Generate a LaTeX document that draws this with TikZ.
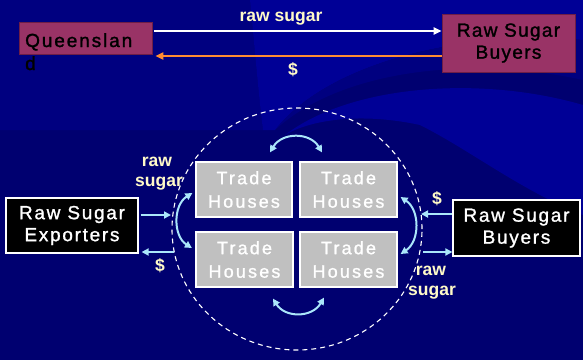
\documentclass[tikz,border=0pt]{standalone}
\usepackage{fontspec}
\setmainfont{Liberation Sans}
\newfontfamily\thfont[LetterSpace=12,FakeBold=1.2]{Liberation Sans}
\newfontfamily\boxfont[LetterSpace=9,FakeBold=1.2]{Liberation Sans}
\newfontfamily\qfont[LetterSpace=10,FakeBold=1.5]{Liberation Sans}
\newfontfamily\bfont[LetterSpace=7,FakeBold=1.5]{Liberation Sans}
\usetikzlibrary{arrows.meta,shapes.geometric}
\definecolor{bgblue}{RGB}{0,0,112}
\definecolor{bglight}{RGB}{0,0,150}
\definecolor{bgmid}{RGB}{0,0,128}
\definecolor{magbox}{RGB}{153,51,102}
\definecolor{magedge}{RGB}{110,30,70}
\definecolor{cream}{RGB}{255,250,200}
\definecolor{cyarrow}{RGB}{170,230,250}
\definecolor{orarrow}{RGB}{255,140,50}
\definecolor{thgray}{RGB}{192,192,192}
\tikzset{
  mbox/.style={rectangle, fill=magbox, draw=magedge, line width=0.8pt, inner sep=0pt},
  blackbox/.style={rectangle, fill=black, draw=white, line width=1.2pt, inner sep=0pt,
    text=white, align=center, font=\boxfont\fontsize{19}{22}\selectfont},
  thbox/.style={rectangle, fill=thgray, draw=white, line width=1.2pt, inner sep=0pt,
    minimum height=55pt, text=white, align=center, font=\thfont\fontsize{18}{23.5}\selectfont},
  lbl/.style={text=cream, anchor=base, inner sep=0pt, font=\bfseries\fontsize{17.5}{20}\selectfont},
  cyarr/.style={draw=cyarrow, line width=2pt, -{Triangle[length=7pt,width=7pt]}},
  cydbl/.style={draw=cyarrow, line width=2pt, {Triangle[length=7pt,width=7pt]}-{Triangle[length=7pt,width=7pt]}},
  wharr/.style={draw=white, line width=2.5pt, -{Triangle[length=8pt,width=7pt]}},
  orarr/.style={draw=orarrow, line width=2.5pt, -{Triangle[length=8pt,width=7pt]}}
}
\begin{document}
\begin{tikzpicture}[x=1pt,y=-1pt]
\useasboundingbox (0,0) rectangle (583,360);
% background
\fill[bgblue] (0,0) rectangle (583,360);
\fill[bgmid] (0,0) -- (250,0) .. controls (254,40) and (258,90) .. (263,130) -- (0,130) -- cycle;
\fill[bglight] (250,0) -- (583,0) -- (583,40) .. controls (470,30) and (330,60) .. (275,130) -- (263,130)
  .. controls (258,90) and (254,40) .. (250,0) -- cycle;
\fill[bgmid] (275,130) .. controls (340,70) and (470,55) .. (583,80) -- (583,40)
  .. controls (470,30) and (330,60) .. (275,130) -- cycle;
\fill[bglight] (285,135) .. controls (350,85) and (480,75) .. (583,105) -- (583,215)
  .. controls (520,190) and (470,150) .. (420,125) .. controls (360,112) and (310,120) .. (285,135) -- cycle;

% top row
\node[mbox, minimum width=133pt, minimum height=32pt] (qld) at (85.5,38) {};
\node[anchor=base west, inner sep=0pt, font=\qfont\fontsize{19}{24}\selectfont] (qldt1) at (25,47) {Queenslan};
\node[anchor=base west, inner sep=0pt, font=\qfont\fontsize{19}{24}\selectfont] (qldt2) at (25,70) {d};
\node[mbox, minimum width=133pt, minimum height=58pt, align=center,
  font=\bfont\fontsize{19}{22}\selectfont] (buy1) at (508.5,43) {Raw Sugar\\Buyers};

\draw[wharr] ([shift={(2,-7)}]qld.east) -- ([shift={(0,-12)}]buy1.west);
\draw[orarr] ([shift={(0,13)}]buy1.west) -- ([shift={(3,18)}]qld.east);
\node[lbl] (lraw) at (281,21) {raw sugar};
\node[lbl] (ldol) at (293,75) {\$};

% ring
\node[ellipse, draw=white, dashed, dash pattern=on 5pt off 4pt, line width=1.1pt,
  minimum width=250pt, minimum height=242pt, inner sep=0pt] (ring) at (297,229) {};

% trade houses
\node[thbox, minimum width=96pt] (th1) at (244,189.5) {Trade\\Houses};
\node[thbox, minimum width=97pt] (th2) at (348.5,189.5) {Trade\\Houses};
\node[thbox, minimum width=97pt] (th3) at (244.5,259.5) {Trade\\Houses};
\node[thbox, minimum width=97pt] (th4) at (348.5,259.5) {Trade\\Houses};

% side boxes
\node[blackbox, minimum width=132pt, minimum height=55pt] (exp) at (72,225.5) {Raw Sugar\\Exporters};
\node[blackbox, minimum width=127pt, minimum height=56pt] (buy2) at (516.5,228) {Raw Sugar\\Buyers};

% side arrows
\coordinate (lin) at (171,215);
\coordinate (lout) at (174,252);
\coordinate (rin) at (421,214);
\coordinate (rout) at (423,252);
\draw[cyarr] ([shift={(2,-10.5)}]exp.east) -- (lin);
\draw[cyarr] (lout) -- ([shift={(3,26.5)}]exp.east);
\draw[cyarr] ([shift={(0,-14)}]buy2.west) -- (rin);
\draw[cyarr] (rout) -- ([shift={(0,24)}]buy2.west);

% curved double arrows
\draw[cydbl] ([shift={(-3,3.5)}]th1.west) .. controls (173,205) and (173,236) .. ([shift={(-3.5,-11.5)}]th3.west);
\draw[cydbl] ([shift={(3,7.5)}]th2.east) .. controls (420,210) and (420,241) .. ([shift={(3,-5.5)}]th4.east);
\draw[cydbl] ([shift={(26,-9)}]th1.north) .. controls (282,132) and (310,132) .. ([shift={(-26.5,-9)}]th2.north);
\draw[cydbl] ([shift={(28.5,11)}]th3.south) .. controls (285,318) and (312,318) .. ([shift={(-24.5,10)}]th4.south);

% labels
\node[lbl] (lrawl1) at (157,166.5) {raw};
\node[lbl] (lrawl2) at (159,186.5) {sugar};
\node[lbl] (ldoll) at (160,271) {\$};
\node[lbl] (ldolr) at (437,204) {\$};
\node[lbl] (lrawr1) at (431,275) {raw};
\node[lbl] (lrawr2) at (432,295) {sugar};
\end{tikzpicture}
\end{document}
